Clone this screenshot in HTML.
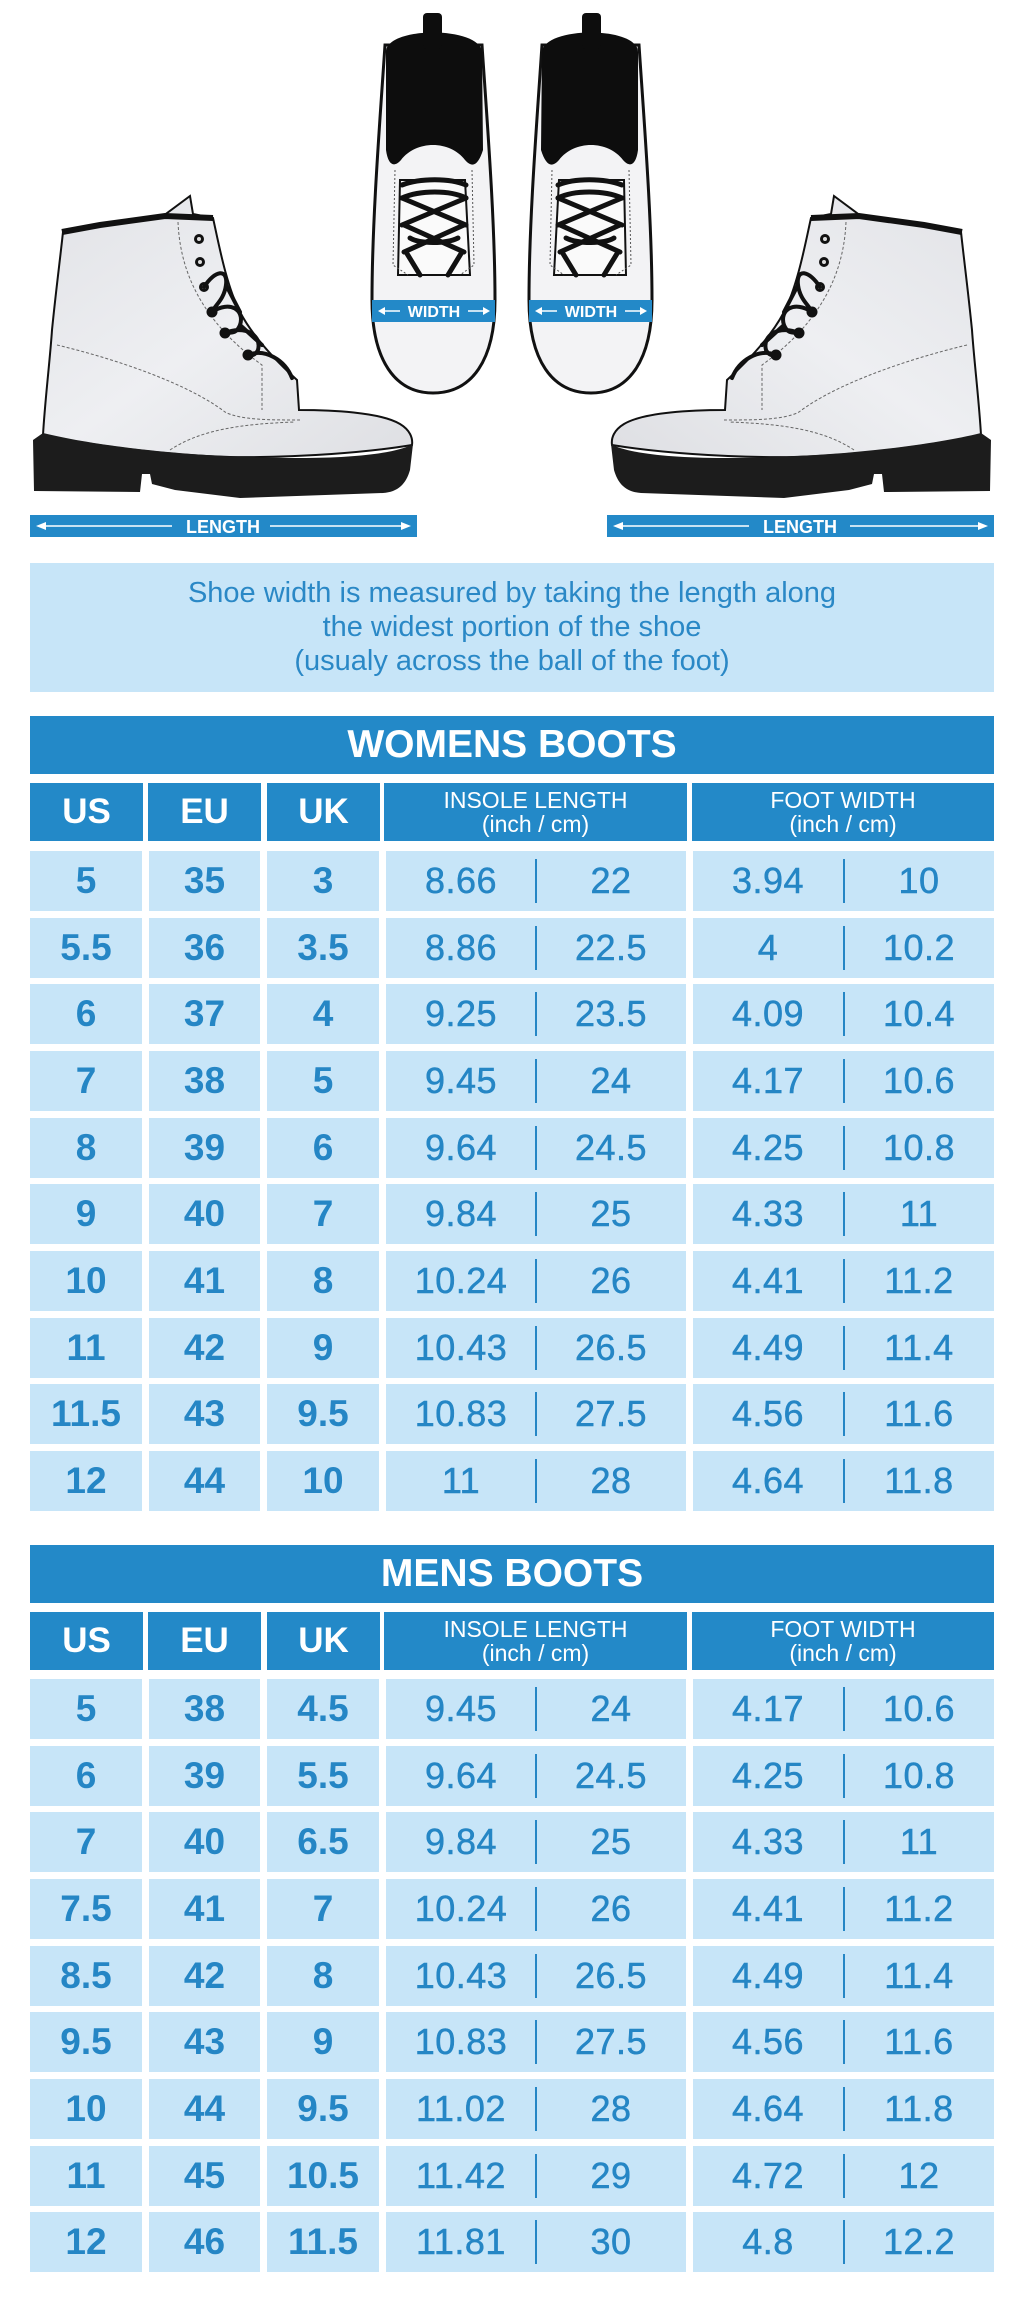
<!DOCTYPE html>
<html>
<head>
<meta charset="utf-8">
<style>
  html,body{margin:0;padding:0;background:#fff;}
  body{width:1024px;height:2305px;position:relative;overflow:hidden;font-family:"Liberation Sans","DejaVu Sans",sans-serif;}
  .abs{position:absolute;}
  .dark{background:#2389c8;color:#fff;}
  .light{background:#c7e5f8;color:#2586c5;}
  .title{left:30px;width:964px;height:58px;line-height:58px;text-align:center;font-weight:bold;font-size:39px;}
  .ch{height:58px;display:flex;align-items:center;justify-content:center;text-align:center;}
  .ch.big{font-weight:bold;font-size:35px;}
  .ch.two{font-size:23px;line-height:24px;flex-direction:column;}
  .cell{height:60px;line-height:60px;text-align:center;font-size:37px;font-weight:bold;}
  .split{height:60px;}
  .split span{position:absolute;top:0;line-height:60px;font-size:36px;letter-spacing:0.5px;-webkit-text-stroke:0.5px #2586c5;width:150px;text-align:center;}
  .split i{position:absolute;left:50%;top:8px;width:2px;height:44px;background:#2586c5;margin-left:-1px;}
  .note{left:30px;top:563px;width:964px;height:129px;background:#c7e5f8;color:#2a88c6;text-align:center;font-size:29px;line-height:34px;}
</style>
</head>
<body>

<svg class="abs" style="left:0;top:0" width="1024" height="560" viewBox="0 0 1024 560">
  <defs>
    <linearGradient id="up" x1="0" y1="0" x2="1" y2="1">
      <stop offset="0" stop-color="#e2e3e7"/>
      <stop offset="0.5" stop-color="#eeeff2"/>
      <stop offset="1" stop-color="#dedfe3"/>
    </linearGradient>
    <g id="sideboot">
      <path d="M63,232 L100,226 L163,216 L190,196 L193,214 L213,218 C218,240 226,285 240,312 C252,335 275,360 297,380 L299,410 C330,410 380,412 400,424 C410,430 413,438 412,445 C370,452 300,458 230,457 C160,455 90,445 43,435 C45,400 50,360 52,330 C56,290 60,260 63,232 Z" fill="url(#up)" stroke="#111" stroke-width="2"/>
      <path d="M62,232 L100,225 L165,216 L213,218" fill="none" stroke="#111" stroke-width="6"/>
      <path d="M43,433 C100,447 200,458 300,458 C360,458 400,452 413,444 L410,470 C406,484 398,492 383,493 L240,498 L175,490 L152,484 L150,474 L142,474 L140,492 L34,491 L33,440 Z" fill="#1c1c1c"/>
      <path d="M57,345 C120,360 190,385 225,412 C240,420 270,420 300,420" fill="none" stroke="#666" stroke-width="1" stroke-dasharray="3,2"/>
      <path d="M178,222 C180,270 200,320 262,365 L262,410" fill="none" stroke="#666" stroke-width="1" stroke-dasharray="3,2"/>
      <path d="M170,450 C200,430 240,424 295,422" fill="none" stroke="#666" stroke-width="1" stroke-dasharray="3,2"/>
      <g fill="#111">
        <circle cx="199" cy="239" r="5"/><circle cx="200" cy="262" r="5"/><circle cx="204" cy="287" r="5"/>
        <circle cx="212" cy="312" r="5.5"/><circle cx="225" cy="333" r="5.5"/><circle cx="248" cy="355" r="5.5"/>
      </g>
      <g fill="#ddd"><circle cx="199" cy="239" r="2"/><circle cx="200" cy="262" r="2"/><circle cx="204" cy="287" r="2"/></g>
      <path d="M204,287 C215,270 228,268 226,285 C224,300 215,305 212,312 M212,312 C230,300 245,310 240,325 C236,335 230,332 225,333 M225,333 C245,325 262,335 258,350 C255,356 250,356 248,355 M248,355 C265,348 285,360 292,378 M226,285 L240,312 M240,325 L262,345" fill="none" stroke="#111" stroke-width="4" stroke-linecap="round"/>
    </g>
    <g id="topboot">
      <path d="M385,45 C380,120 372,220 372,300 C372,360 395,393 433,393 C472,393 495,360 495,300 C495,220 487,120 482,45 Z" fill="#f3f3f5" stroke="#111" stroke-width="3"/>
      <path d="M386,52 C386,26 480,26 482,52 L483,150 C478,166 472,168 465,160 C450,140 416,140 401,160 C394,168 388,165 386,150 Z" fill="#0d0d0d"/>
      <rect x="423" y="13" width="19" height="36" rx="4" fill="#0d0d0d"/>
      <path d="M400,180 L465,180 L470,275 L398,275 Z" fill="#fafafa" stroke="#111" stroke-width="2"/>
      <g fill="none" stroke="#111" stroke-width="5" stroke-linecap="round">
        <path d="M402,185 C420,178 450,178 466,185"/>
        <path d="M402,198 C420,190 450,190 466,198"/>
        <path d="M402,198 L466,225 M466,198 L402,225"/>
        <path d="M404,225 L464,252 M464,225 L404,252"/>
        <path d="M406,252 L420,275 M462,252 L448,275"/>
        <path d="M410,238 C420,244 446,244 458,238"/>
      </g>
      <path d="M395,170 L393,265 L408,275 M472,170 L474,265 L460,275" fill="none" stroke="#555" stroke-width="1" stroke-dasharray="2,2"/>
    </g>
  </defs>

  <use href="#sideboot"/>
  <use href="#sideboot" transform="translate(1024,0) scale(-1,1)"/>
  <use href="#topboot"/>
  <use href="#topboot" transform="translate(1024,0) scale(-1,1)"/>

  <!-- width bars -->
  <rect x="372" y="300" width="123" height="22" fill="#2389c8"/>
  <rect x="529" y="300" width="123" height="22" fill="#2389c8"/>
  <g fill="#fff" font-family="Liberation Sans, sans-serif" font-weight="bold" font-size="16" text-anchor="middle">
    <text x="434" y="317">WIDTH</text>
    <text x="591" y="317">WIDTH</text>
  </g>
  <g stroke="#fff" stroke-width="1.6" fill="#fff">
    <line x1="381" y1="311" x2="400" y2="311"/><path d="M378,311 L385,307 L385,315 Z" stroke="none"/>
    <line x1="468" y1="311" x2="487" y2="311"/><path d="M490,311 L483,307 L483,315 Z" stroke="none"/>
    <line x1="538" y1="311" x2="557" y2="311"/><path d="M535,311 L542,307 L542,315 Z" stroke="none"/>
    <line x1="625" y1="311" x2="644" y2="311"/><path d="M647,311 L640,307 L640,315 Z" stroke="none"/>
  </g>

  <!-- length bars -->
  <rect x="30" y="515" width="387" height="22" fill="#2389c8"/>
  <rect x="607" y="515" width="387" height="22" fill="#2389c8"/>
  <g fill="#fff" font-family="Liberation Sans, sans-serif" font-weight="bold" font-size="18" text-anchor="middle">
    <text x="223" y="533">LENGTH</text>
    <text x="800" y="533">LENGTH</text>
  </g>
  <g stroke="#fff" stroke-width="1.5" fill="#fff">
    <line x1="40" y1="526" x2="172" y2="526"/><path d="M36,526 L46,522 L46,530 Z" stroke="none"/>
    <line x1="270" y1="526" x2="407" y2="526"/><path d="M411,526 L401,522 L401,530 Z" stroke="none"/>
    <line x1="617" y1="526" x2="749" y2="526"/><path d="M613,526 L623,522 L623,530 Z" stroke="none"/>
    <line x1="850" y1="526" x2="984" y2="526"/><path d="M988,526 L978,522 L978,530 Z" stroke="none"/>
  </g>
</svg>

<div class="abs note"><div style="padding-top:13px">Shoe width is measured by taking the length along<br>the widest portion of the shoe<br>(usualy across the ball of the foot)</div></div>

<!-- WOMENS -->
<div class="abs dark title" style="top:716px">WOMENS BOOTS</div>
<div class="abs dark ch big" style="left:30px;top:783px;width:113px">US</div>
<div class="abs dark ch big" style="left:148px;top:783px;width:113px">EU</div>
<div class="abs dark ch big" style="left:267px;top:783px;width:113px">UK</div>
<div class="abs dark ch two" style="left:384px;top:783px;width:303px"><div>INSOLE LENGTH</div><div>(inch / cm)</div></div>
<div class="abs dark ch two" style="left:692px;top:783px;width:302px"><div>FOOT WIDTH</div><div>(inch / cm)</div></div>

<!-- MENS -->
<div class="abs dark title" style="top:1545px">MENS BOOTS</div>
<div class="abs dark ch big" style="left:30px;top:1612px;width:113px">US</div>
<div class="abs dark ch big" style="left:148px;top:1612px;width:113px">EU</div>
<div class="abs dark ch big" style="left:267px;top:1612px;width:113px">UK</div>
<div class="abs dark ch two" style="left:384px;top:1612px;width:303px"><div>INSOLE LENGTH</div><div>(inch / cm)</div></div>
<div class="abs dark ch two" style="left:692px;top:1612px;width:302px"><div>FOOT WIDTH</div><div>(inch / cm)</div></div>

<!-- Women rows -->
<div class="abs light cell" style="left:30px;top:851px;width:112px">5</div><div class="abs light cell" style="left:149px;top:851px;width:111px">35</div><div class="abs light cell" style="left:267px;top:851px;width:112px">3</div>
<div class="abs light split" style="left:386px;top:851px;width:300px"><span style="left:0">8.66</span><i></i><span style="left:150px">22</span></div>
<div class="abs light split" style="left:693px;top:851px;width:301px"><span style="left:0">3.94</span><i></i><span style="left:151px">10</span></div>

<div class="abs light cell" style="left:30px;top:918px;width:112px">5.5</div><div class="abs light cell" style="left:149px;top:918px;width:111px">36</div><div class="abs light cell" style="left:267px;top:918px;width:112px">3.5</div>
<div class="abs light split" style="left:386px;top:918px;width:300px"><span style="left:0">8.86</span><i></i><span style="left:150px">22.5</span></div>
<div class="abs light split" style="left:693px;top:918px;width:301px"><span style="left:0">4</span><i></i><span style="left:151px">10.2</span></div>

<div class="abs light cell" style="left:30px;top:984px;width:112px">6</div><div class="abs light cell" style="left:149px;top:984px;width:111px">37</div><div class="abs light cell" style="left:267px;top:984px;width:112px">4</div>
<div class="abs light split" style="left:386px;top:984px;width:300px"><span style="left:0">9.25</span><i></i><span style="left:150px">23.5</span></div>
<div class="abs light split" style="left:693px;top:984px;width:301px"><span style="left:0">4.09</span><i></i><span style="left:151px">10.4</span></div>

<div class="abs light cell" style="left:30px;top:1051px;width:112px">7</div><div class="abs light cell" style="left:149px;top:1051px;width:111px">38</div><div class="abs light cell" style="left:267px;top:1051px;width:112px">5</div>
<div class="abs light split" style="left:386px;top:1051px;width:300px"><span style="left:0">9.45</span><i></i><span style="left:150px">24</span></div>
<div class="abs light split" style="left:693px;top:1051px;width:301px"><span style="left:0">4.17</span><i></i><span style="left:151px">10.6</span></div>

<div class="abs light cell" style="left:30px;top:1118px;width:112px">8</div><div class="abs light cell" style="left:149px;top:1118px;width:111px">39</div><div class="abs light cell" style="left:267px;top:1118px;width:112px">6</div>
<div class="abs light split" style="left:386px;top:1118px;width:300px"><span style="left:0">9.64</span><i></i><span style="left:150px">24.5</span></div>
<div class="abs light split" style="left:693px;top:1118px;width:301px"><span style="left:0">4.25</span><i></i><span style="left:151px">10.8</span></div>

<div class="abs light cell" style="left:30px;top:1184px;width:112px">9</div><div class="abs light cell" style="left:149px;top:1184px;width:111px">40</div><div class="abs light cell" style="left:267px;top:1184px;width:112px">7</div>
<div class="abs light split" style="left:386px;top:1184px;width:300px"><span style="left:0">9.84</span><i></i><span style="left:150px">25</span></div>
<div class="abs light split" style="left:693px;top:1184px;width:301px"><span style="left:0">4.33</span><i></i><span style="left:151px">11</span></div>

<div class="abs light cell" style="left:30px;top:1251px;width:112px">10</div><div class="abs light cell" style="left:149px;top:1251px;width:111px">41</div><div class="abs light cell" style="left:267px;top:1251px;width:112px">8</div>
<div class="abs light split" style="left:386px;top:1251px;width:300px"><span style="left:0">10.24</span><i></i><span style="left:150px">26</span></div>
<div class="abs light split" style="left:693px;top:1251px;width:301px"><span style="left:0">4.41</span><i></i><span style="left:151px">11.2</span></div>

<div class="abs light cell" style="left:30px;top:1318px;width:112px">11</div><div class="abs light cell" style="left:149px;top:1318px;width:111px">42</div><div class="abs light cell" style="left:267px;top:1318px;width:112px">9</div>
<div class="abs light split" style="left:386px;top:1318px;width:300px"><span style="left:0">10.43</span><i></i><span style="left:150px">26.5</span></div>
<div class="abs light split" style="left:693px;top:1318px;width:301px"><span style="left:0">4.49</span><i></i><span style="left:151px">11.4</span></div>

<div class="abs light cell" style="left:30px;top:1384px;width:112px">11.5</div><div class="abs light cell" style="left:149px;top:1384px;width:111px">43</div><div class="abs light cell" style="left:267px;top:1384px;width:112px">9.5</div>
<div class="abs light split" style="left:386px;top:1384px;width:300px"><span style="left:0">10.83</span><i></i><span style="left:150px">27.5</span></div>
<div class="abs light split" style="left:693px;top:1384px;width:301px"><span style="left:0">4.56</span><i></i><span style="left:151px">11.6</span></div>

<div class="abs light cell" style="left:30px;top:1451px;width:112px">12</div><div class="abs light cell" style="left:149px;top:1451px;width:111px">44</div><div class="abs light cell" style="left:267px;top:1451px;width:112px">10</div>
<div class="abs light split" style="left:386px;top:1451px;width:300px"><span style="left:0">11</span><i></i><span style="left:150px">28</span></div>
<div class="abs light split" style="left:693px;top:1451px;width:301px"><span style="left:0">4.64</span><i></i><span style="left:151px">11.8</span></div>

<!-- Men rows -->
<div class="abs light cell" style="left:30px;top:1679px;width:112px">5</div><div class="abs light cell" style="left:149px;top:1679px;width:111px">38</div><div class="abs light cell" style="left:267px;top:1679px;width:112px">4.5</div>
<div class="abs light split" style="left:386px;top:1679px;width:300px"><span style="left:0">9.45</span><i></i><span style="left:150px">24</span></div>
<div class="abs light split" style="left:693px;top:1679px;width:301px"><span style="left:0">4.17</span><i></i><span style="left:151px">10.6</span></div>

<div class="abs light cell" style="left:30px;top:1746px;width:112px">6</div><div class="abs light cell" style="left:149px;top:1746px;width:111px">39</div><div class="abs light cell" style="left:267px;top:1746px;width:112px">5.5</div>
<div class="abs light split" style="left:386px;top:1746px;width:300px"><span style="left:0">9.64</span><i></i><span style="left:150px">24.5</span></div>
<div class="abs light split" style="left:693px;top:1746px;width:301px"><span style="left:0">4.25</span><i></i><span style="left:151px">10.8</span></div>

<div class="abs light cell" style="left:30px;top:1812px;width:112px">7</div><div class="abs light cell" style="left:149px;top:1812px;width:111px">40</div><div class="abs light cell" style="left:267px;top:1812px;width:112px">6.5</div>
<div class="abs light split" style="left:386px;top:1812px;width:300px"><span style="left:0">9.84</span><i></i><span style="left:150px">25</span></div>
<div class="abs light split" style="left:693px;top:1812px;width:301px"><span style="left:0">4.33</span><i></i><span style="left:151px">11</span></div>

<div class="abs light cell" style="left:30px;top:1879px;width:112px">7.5</div><div class="abs light cell" style="left:149px;top:1879px;width:111px">41</div><div class="abs light cell" style="left:267px;top:1879px;width:112px">7</div>
<div class="abs light split" style="left:386px;top:1879px;width:300px"><span style="left:0">10.24</span><i></i><span style="left:150px">26</span></div>
<div class="abs light split" style="left:693px;top:1879px;width:301px"><span style="left:0">4.41</span><i></i><span style="left:151px">11.2</span></div>

<div class="abs light cell" style="left:30px;top:1946px;width:112px">8.5</div><div class="abs light cell" style="left:149px;top:1946px;width:111px">42</div><div class="abs light cell" style="left:267px;top:1946px;width:112px">8</div>
<div class="abs light split" style="left:386px;top:1946px;width:300px"><span style="left:0">10.43</span><i></i><span style="left:150px">26.5</span></div>
<div class="abs light split" style="left:693px;top:1946px;width:301px"><span style="left:0">4.49</span><i></i><span style="left:151px">11.4</span></div>

<div class="abs light cell" style="left:30px;top:2012px;width:112px">9.5</div><div class="abs light cell" style="left:149px;top:2012px;width:111px">43</div><div class="abs light cell" style="left:267px;top:2012px;width:112px">9</div>
<div class="abs light split" style="left:386px;top:2012px;width:300px"><span style="left:0">10.83</span><i></i><span style="left:150px">27.5</span></div>
<div class="abs light split" style="left:693px;top:2012px;width:301px"><span style="left:0">4.56</span><i></i><span style="left:151px">11.6</span></div>

<div class="abs light cell" style="left:30px;top:2079px;width:112px">10</div><div class="abs light cell" style="left:149px;top:2079px;width:111px">44</div><div class="abs light cell" style="left:267px;top:2079px;width:112px">9.5</div>
<div class="abs light split" style="left:386px;top:2079px;width:300px"><span style="left:0">11.02</span><i></i><span style="left:150px">28</span></div>
<div class="abs light split" style="left:693px;top:2079px;width:301px"><span style="left:0">4.64</span><i></i><span style="left:151px">11.8</span></div>

<div class="abs light cell" style="left:30px;top:2146px;width:112px">11</div><div class="abs light cell" style="left:149px;top:2146px;width:111px">45</div><div class="abs light cell" style="left:267px;top:2146px;width:112px">10.5</div>
<div class="abs light split" style="left:386px;top:2146px;width:300px"><span style="left:0">11.42</span><i></i><span style="left:150px">29</span></div>
<div class="abs light split" style="left:693px;top:2146px;width:301px"><span style="left:0">4.72</span><i></i><span style="left:151px">12</span></div>

<div class="abs light cell" style="left:30px;top:2212px;width:112px">12</div><div class="abs light cell" style="left:149px;top:2212px;width:111px">46</div><div class="abs light cell" style="left:267px;top:2212px;width:112px">11.5</div>
<div class="abs light split" style="left:386px;top:2212px;width:300px"><span style="left:0">11.81</span><i></i><span style="left:150px">30</span></div>
<div class="abs light split" style="left:693px;top:2212px;width:301px"><span style="left:0">4.8</span><i></i><span style="left:151px">12.2</span></div>

</body>
</html>
